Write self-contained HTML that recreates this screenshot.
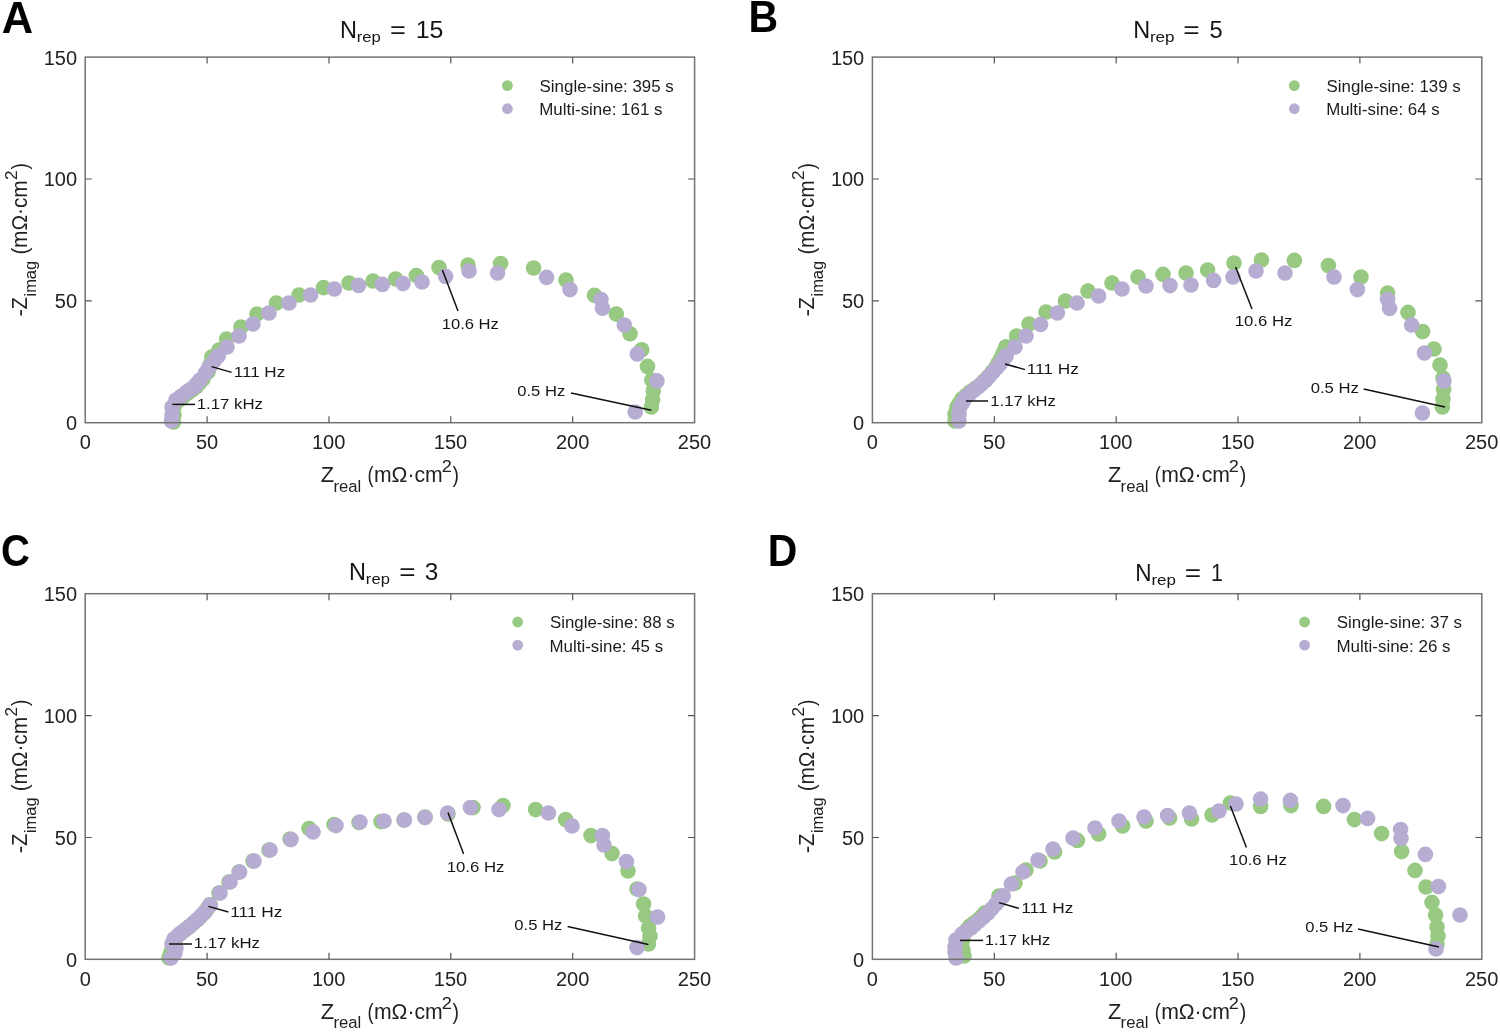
<!DOCTYPE html>
<html><head><meta charset="utf-8"><style>
html,body{margin:0;padding:0;background:#fff;}
svg{display:block;will-change:transform;}
text{font-family:"Liberation Sans", sans-serif;fill:#222;}
.tk{}
.al{}
.sub{}
.an{fill:#161616;}
.lg{fill:#1c1c1c;}
.ti{fill:#161616;}
.lt{font-weight:bold;fill:#000;}
</style></head><body>
<svg width="1500" height="1033" viewBox="0 0 1500 1033">
<rect width="1500" height="1033" fill="#fff"/>
<g fill="#97c982"><circle cx="651.4" cy="407.0" r="7.8"/><circle cx="652.6" cy="399.7" r="7.8"/><circle cx="653.3" cy="391.0" r="7.8"/><circle cx="651.8" cy="380.1" r="7.8"/><circle cx="647.5" cy="366.4" r="7.8"/><circle cx="641.7" cy="349.7" r="7.8"/><circle cx="630.0" cy="333.7" r="7.8"/><circle cx="616.3" cy="314.1" r="7.8"/><circle cx="594.5" cy="295.2" r="7.8"/><circle cx="566.0" cy="280.0" r="7.8"/><circle cx="533.6" cy="268.0" r="7.8"/><circle cx="500.6" cy="263.6" r="7.8"/><circle cx="468.0" cy="265.0" r="7.8"/><circle cx="439.0" cy="267.6" r="7.8"/><circle cx="416.4" cy="275.6" r="7.8"/><circle cx="395.6" cy="279.0" r="7.8"/><circle cx="373.0" cy="281.0" r="7.8"/><circle cx="349.0" cy="283.0" r="7.8"/><circle cx="323.6" cy="287.6" r="7.8"/><circle cx="299.0" cy="295.0" r="7.8"/><circle cx="276.4" cy="303.0" r="7.8"/><circle cx="257.0" cy="314.0" r="7.8"/><circle cx="241.0" cy="327.0" r="7.8"/><circle cx="226.6" cy="339.0" r="7.8"/><circle cx="219.0" cy="350.0" r="7.8"/><circle cx="212.0" cy="357.0" r="7.8"/><circle cx="212.0" cy="357.0" r="7.8"/><circle cx="210.0" cy="365.0" r="7.8"/><circle cx="208.0" cy="372.0" r="7.8"/><circle cx="203.0" cy="379.0" r="7.8"/><circle cx="199.5" cy="383.0" r="7.8"/><circle cx="196.0" cy="387.0" r="7.8"/><circle cx="192.0" cy="390.0" r="7.8"/><circle cx="188.0" cy="393.0" r="7.8"/><circle cx="183.5" cy="396.5" r="7.8"/><circle cx="179.0" cy="400.0" r="7.8"/><circle cx="174.0" cy="407.0" r="7.8"/><circle cx="174.0" cy="415.0" r="7.8"/><circle cx="173.5" cy="422.0" r="7.8"/></g>
<g fill="#b7acd1"><circle cx="635.2" cy="412.0" r="7.8"/><circle cx="657.0" cy="380.9" r="7.8"/><circle cx="637.3" cy="354.0" r="7.8"/><circle cx="624.3" cy="325.0" r="7.8"/><circle cx="602.5" cy="308.3" r="7.8"/><circle cx="601.0" cy="299.6" r="7.8"/><circle cx="570.0" cy="289.6" r="7.8"/><circle cx="546.6" cy="277.4" r="7.8"/><circle cx="497.6" cy="273.0" r="7.8"/><circle cx="469.0" cy="271.0" r="7.8"/><circle cx="445.6" cy="276.4" r="7.8"/><circle cx="422.0" cy="282.0" r="7.8"/><circle cx="403.0" cy="283.6" r="7.8"/><circle cx="382.4" cy="284.4" r="7.8"/><circle cx="358.6" cy="285.4" r="7.8"/><circle cx="334.4" cy="289.0" r="7.8"/><circle cx="310.6" cy="295.0" r="7.8"/><circle cx="289.0" cy="303.0" r="7.8"/><circle cx="269.0" cy="313.0" r="7.8"/><circle cx="253.0" cy="324.0" r="7.8"/><circle cx="239.0" cy="336.0" r="7.8"/><circle cx="227.0" cy="347.0" r="7.8"/><circle cx="218.0" cy="356.0" r="7.8"/><circle cx="218.0" cy="356.0" r="7.8"/><circle cx="214.5" cy="360.5" r="7.8"/><circle cx="211.0" cy="365.0" r="7.8"/><circle cx="208.2" cy="369.0" r="7.8"/><circle cx="205.5" cy="373.0" r="7.8"/><circle cx="200.0" cy="380.0" r="7.8"/><circle cx="197.0" cy="383.5" r="7.8"/><circle cx="194.0" cy="387.0" r="7.8"/><circle cx="190.0" cy="389.8" r="7.8"/><circle cx="186.0" cy="392.5" r="7.8"/><circle cx="181.0" cy="396.2" r="7.8"/><circle cx="176.0" cy="400.0" r="7.8"/><circle cx="172.0" cy="407.0" r="7.8"/><circle cx="172.0" cy="415.0" r="7.8"/><circle cx="171.5" cy="421.0" r="7.8"/></g>
<rect x="85.2" y="57.1" width="609.4" height="365.6" fill="none" stroke="#737373" stroke-width="1.5"/>
<path d="M207.1,422.7v-6.5M207.1,57.1v6.5M329.0,422.7v-6.5M329.0,57.1v6.5M450.8,422.7v-6.5M450.8,57.1v6.5M572.7,422.7v-6.5M572.7,57.1v6.5M85.2,300.9h6.5M694.6,300.9h-6.5M85.2,179.0h6.5M694.6,179.0h-6.5" stroke="#555" stroke-width="1.2" fill="none"/>
<text x="79.64" y="449.34" class="tk" font-size="20.0">0</text>
<text x="195.89" y="449.34" class="tk" font-size="20.0">50</text>
<text x="311.90" y="449.34" class="tk" font-size="20.0">100</text>
<text x="433.78" y="449.34" class="tk" font-size="20.0">150</text>
<text x="555.91" y="449.34" class="tk" font-size="20.0">200</text>
<text x="677.79" y="449.34" class="tk" font-size="20.0">250</text>
<text x="65.92" y="430.24" class="tk" font-size="20.0">0</text>
<text x="54.80" y="308.36" class="tk" font-size="20.0">50</text>
<text x="43.67" y="186.48" class="tk" font-size="20.0">100</text>
<text x="43.67" y="64.60" class="tk" font-size="20.0">150</text>
<text transform="translate(320.76,481.90) scale(1.0213,1)" class="al" font-size="21.4">Z</text>
<text x="333.38" y="491.80" class="sub" font-size="16.7">real</text>
<text transform="translate(367.43,481.90) scale(0.8533,1)" class="al" font-size="21.4">(</text>
<text transform="translate(373.94,481.90) scale(0.9906,1)" class="al" font-size="21.4">mΩ·cm</text>
<text transform="translate(441.65,472.10) scale(1.0885,1)" class="sub" font-size="16.7">2</text>
<text transform="translate(452.59,481.90) scale(0.9067,1)" class="al" font-size="21.4">)</text>
<g transform="translate(26.70,315.50) rotate(-90)"><text transform="translate(-1.05,0.00) scale(1.0537,1)" class="al" font-size="21.4">-</text><text transform="translate(6.32,0.00) scale(0.9277,1)" class="al" font-size="21.4">Z</text><text transform="translate(18.99,9.30) scale(0.9875,1)" class="sub" font-size="16.7">imag</text><text transform="translate(60.96,0.00) scale(0.9778,1)" class="al" font-size="21.4">(</text><text transform="translate(67.56,0.00) scale(0.9741,1)" class="al" font-size="21.4">mΩ·cm</text><text transform="translate(135.60,-10.00) scale(1.0230,1)" class="sub" font-size="16.7">2</text><text transform="translate(146.09,0.00) scale(0.8889,1)" class="al" font-size="21.4">)</text></g>
<line x1="211.6" y1="366.6" x2="231.6" y2="372.4" stroke="#111" stroke-width="1.5"/>
<text transform="translate(233.66,377.00) scale(1.1868,1)" class="an" font-size="14.4">111 Hz</text>
<line x1="172.4" y1="404.4" x2="195" y2="404.4" stroke="#111" stroke-width="1.5"/>
<text transform="translate(196.69,409.00) scale(1.1663,1)" class="an" font-size="14.4">1.17 kHz</text>
<line x1="442.4" y1="270" x2="458" y2="311" stroke="#111" stroke-width="1.5"/>
<text transform="translate(441.70,329.00) scale(1.1518,1)" class="an" font-size="14.4">10.6 Hz</text>
<line x1="571" y1="393" x2="651.4" y2="410.3" stroke="#111" stroke-width="1.5"/>
<text transform="translate(517.28,396.00) scale(1.1528,1)" class="an" font-size="14.4">0.5 Hz</text>
<circle cx="507.4" cy="85.6" r="5.4" fill="#97c982"/>
<circle cx="507.4" cy="108.7" r="5.4" fill="#b7acd1"/>
<text transform="translate(539.61,92.00) scale(1.0558,1)" class="lg" font-size="16.0">Single-sine: 395 s</text>
<text transform="translate(539.24,115.30) scale(1.0594,1)" class="lg" font-size="16.0">Multi-sine: 161 s</text>
<text transform="translate(340.01,37.80) scale(1.0077,1)" class="ti" font-size="23.3">N</text>
<text transform="translate(356.76,42.00) scale(1.1868,1)" class="ti" font-size="14.0">rep</text>
<text transform="translate(390.09,37.80) scale(1.1644,1)" class="ti" font-size="23.3">=</text>
<text transform="translate(415.73,37.80) scale(1.0681,1)" class="ti" font-size="23.3">15</text>
<text transform="translate(1.80,32.70) scale(0.9774,1)" class="lt" font-size="44.5">A</text>
<g fill="#97c982"><circle cx="1442.4" cy="407.0" r="7.8"/><circle cx="1443.0" cy="399.0" r="7.8"/><circle cx="1443.6" cy="389.6" r="7.8"/><circle cx="1443.0" cy="378.0" r="7.8"/><circle cx="1440.0" cy="365.0" r="7.8"/><circle cx="1434.0" cy="349.0" r="7.8"/><circle cx="1422.6" cy="331.6" r="7.8"/><circle cx="1408.0" cy="312.4" r="7.8"/><circle cx="1387.6" cy="293.0" r="7.8"/><circle cx="1361.0" cy="277.0" r="7.8"/><circle cx="1328.4" cy="265.6" r="7.8"/><circle cx="1294.4" cy="260.4" r="7.8"/><circle cx="1261.4" cy="260.0" r="7.8"/><circle cx="1234.0" cy="263.0" r="7.8"/><circle cx="1207.6" cy="270.0" r="7.8"/><circle cx="1186.0" cy="273.0" r="7.8"/><circle cx="1163.0" cy="274.4" r="7.8"/><circle cx="1138.0" cy="277.0" r="7.8"/><circle cx="1112.0" cy="283.0" r="7.8"/><circle cx="1088.0" cy="291.0" r="7.8"/><circle cx="1065.4" cy="301.0" r="7.8"/><circle cx="1046.0" cy="312.0" r="7.8"/><circle cx="1029.0" cy="324.0" r="7.8"/><circle cx="1016.6" cy="336.0" r="7.8"/><circle cx="1006.0" cy="347.0" r="7.8"/><circle cx="1006.0" cy="347.0" r="7.8"/><circle cx="1003.5" cy="352.5" r="7.8"/><circle cx="1001.0" cy="358.0" r="7.8"/><circle cx="998.5" cy="362.5" r="7.8"/><circle cx="996.0" cy="367.0" r="7.8"/><circle cx="992.0" cy="372.0" r="7.8"/><circle cx="988.0" cy="377.0" r="7.8"/><circle cx="984.0" cy="381.0" r="7.8"/><circle cx="980.0" cy="385.0" r="7.8"/><circle cx="975.0" cy="388.5" r="7.8"/><circle cx="970.0" cy="392.0" r="7.8"/><circle cx="966.0" cy="395.5" r="7.8"/><circle cx="962.0" cy="399.0" r="7.8"/><circle cx="959.5" cy="403.0" r="7.8"/><circle cx="957.0" cy="407.0" r="7.8"/><circle cx="955.0" cy="414.0" r="7.8"/><circle cx="955.0" cy="421.0" r="7.8"/></g>
<g fill="#b7acd1"><circle cx="1422.4" cy="413.0" r="7.8"/><circle cx="1444.0" cy="381.0" r="7.8"/><circle cx="1424.4" cy="353.0" r="7.8"/><circle cx="1411.6" cy="325.0" r="7.8"/><circle cx="1389.6" cy="308.4" r="7.8"/><circle cx="1387.6" cy="299.6" r="7.8"/><circle cx="1357.4" cy="289.6" r="7.8"/><circle cx="1334.0" cy="277.0" r="7.8"/><circle cx="1285.0" cy="273.0" r="7.8"/><circle cx="1256.0" cy="271.0" r="7.8"/><circle cx="1233.0" cy="277.0" r="7.8"/><circle cx="1213.6" cy="280.4" r="7.8"/><circle cx="1191.0" cy="285.0" r="7.8"/><circle cx="1170.0" cy="285.6" r="7.8"/><circle cx="1146.0" cy="286.0" r="7.8"/><circle cx="1122.0" cy="289.0" r="7.8"/><circle cx="1098.6" cy="296.0" r="7.8"/><circle cx="1077.0" cy="303.0" r="7.8"/><circle cx="1057.4" cy="313.0" r="7.8"/><circle cx="1040.6" cy="324.4" r="7.8"/><circle cx="1026.0" cy="336.0" r="7.8"/><circle cx="1015.0" cy="347.0" r="7.8"/><circle cx="1006.0" cy="356.0" r="7.8"/><circle cx="1006.0" cy="356.0" r="7.8"/><circle cx="1003.0" cy="360.0" r="7.8"/><circle cx="1000.0" cy="364.0" r="7.8"/><circle cx="996.5" cy="368.0" r="7.8"/><circle cx="993.0" cy="372.0" r="7.8"/><circle cx="989.5" cy="376.0" r="7.8"/><circle cx="986.0" cy="380.0" r="7.8"/><circle cx="982.0" cy="383.5" r="7.8"/><circle cx="978.0" cy="387.0" r="7.8"/><circle cx="974.0" cy="390.3" r="7.8"/><circle cx="970.0" cy="393.7" r="7.8"/><circle cx="966.0" cy="397.0" r="7.8"/><circle cx="963.0" cy="402.0" r="7.8"/><circle cx="960.0" cy="407.0" r="7.8"/><circle cx="959.0" cy="414.0" r="7.8"/><circle cx="959.0" cy="421.0" r="7.8"/></g>
<rect x="872.4" y="57.1" width="609.4" height="365.6" fill="none" stroke="#737373" stroke-width="1.5"/>
<path d="M994.3,422.7v-6.5M994.3,57.1v6.5M1116.2,422.7v-6.5M1116.2,57.1v6.5M1238.0,422.7v-6.5M1238.0,57.1v6.5M1359.9,422.7v-6.5M1359.9,57.1v6.5M872.4,300.9h6.5M1481.8,300.9h-6.5M872.4,179.0h6.5M1481.8,179.0h-6.5" stroke="#555" stroke-width="1.2" fill="none"/>
<text x="866.84" y="449.34" class="tk" font-size="20.0">0</text>
<text x="983.09" y="449.34" class="tk" font-size="20.0">50</text>
<text x="1099.10" y="449.34" class="tk" font-size="20.0">100</text>
<text x="1220.98" y="449.34" class="tk" font-size="20.0">150</text>
<text x="1343.11" y="449.34" class="tk" font-size="20.0">200</text>
<text x="1464.99" y="449.34" class="tk" font-size="20.0">250</text>
<text x="853.12" y="430.24" class="tk" font-size="20.0">0</text>
<text x="842.00" y="308.36" class="tk" font-size="20.0">50</text>
<text x="830.88" y="186.48" class="tk" font-size="20.0">100</text>
<text x="830.88" y="64.60" class="tk" font-size="20.0">150</text>
<text transform="translate(1107.96,481.90) scale(1.0213,1)" class="al" font-size="21.4">Z</text>
<text x="1120.58" y="491.80" class="sub" font-size="16.7">real</text>
<text transform="translate(1154.63,481.90) scale(0.8533,1)" class="al" font-size="21.4">(</text>
<text transform="translate(1161.14,481.90) scale(0.9906,1)" class="al" font-size="21.4">mΩ·cm</text>
<text transform="translate(1228.85,472.10) scale(1.0885,1)" class="sub" font-size="16.7">2</text>
<text transform="translate(1239.79,481.90) scale(0.9067,1)" class="al" font-size="21.4">)</text>
<g transform="translate(813.90,315.50) rotate(-90)"><text transform="translate(-1.05,0.00) scale(1.0537,1)" class="al" font-size="21.4">-</text><text transform="translate(6.32,0.00) scale(0.9277,1)" class="al" font-size="21.4">Z</text><text transform="translate(18.99,9.30) scale(0.9875,1)" class="sub" font-size="16.7">imag</text><text transform="translate(60.96,0.00) scale(0.9778,1)" class="al" font-size="21.4">(</text><text transform="translate(67.56,0.00) scale(0.9741,1)" class="al" font-size="21.4">mΩ·cm</text><text transform="translate(135.60,-10.00) scale(1.0230,1)" class="sub" font-size="16.7">2</text><text transform="translate(146.09,0.00) scale(0.8889,1)" class="al" font-size="21.4">)</text></g>
<line x1="1005" y1="364" x2="1025" y2="369.6" stroke="#111" stroke-width="1.5"/>
<text transform="translate(1026.65,373.60) scale(1.2012,1)" class="an" font-size="14.4">111 Hz</text>
<line x1="966" y1="401" x2="988" y2="401" stroke="#111" stroke-width="1.5"/>
<text transform="translate(990.30,406.00) scale(1.1554,1)" class="an" font-size="14.4">1.17 kHz</text>
<line x1="1235.6" y1="267" x2="1252" y2="309" stroke="#111" stroke-width="1.5"/>
<text transform="translate(1234.69,326.00) scale(1.1644,1)" class="an" font-size="14.4">10.6 Hz</text>
<line x1="1363.6" y1="389" x2="1445" y2="407" stroke="#111" stroke-width="1.5"/>
<text transform="translate(1310.68,393.00) scale(1.1578,1)" class="an" font-size="14.4">0.5 Hz</text>
<circle cx="1294.3" cy="85.6" r="5.4" fill="#97c982"/>
<circle cx="1294.3" cy="108.7" r="5.4" fill="#b7acd1"/>
<text transform="translate(1326.51,92.00) scale(1.0566,1)" class="lg" font-size="16.0">Single-sine: 139 s</text>
<text transform="translate(1326.15,115.30) scale(1.0575,1)" class="lg" font-size="16.0">Multi-sine: 64 s</text>
<text transform="translate(1133.31,38.10) scale(1.0077,1)" class="ti" font-size="23.3">N</text>
<text transform="translate(1149.93,42.30) scale(1.2185,1)" class="ti" font-size="14.0">rep</text>
<text transform="translate(1183.35,38.10) scale(1.2000,1)" class="ti" font-size="23.3">=</text>
<text transform="translate(1209.38,38.10) scale(1.0182,1)" class="ti" font-size="23.3">5</text>
<text transform="translate(748.44,32.40) scale(0.9217,1)" class="lt" font-size="44.5">B</text>
<g fill="#97c982"><circle cx="648.4" cy="944.0" r="7.8"/><circle cx="650.0" cy="936.0" r="7.8"/><circle cx="648.6" cy="928.0" r="7.8"/><circle cx="645.6" cy="916.0" r="7.8"/><circle cx="643.6" cy="904.0" r="7.8"/><circle cx="637.0" cy="889.0" r="7.8"/><circle cx="628.0" cy="871.0" r="7.8"/><circle cx="612.0" cy="853.6" r="7.8"/><circle cx="591.0" cy="835.6" r="7.8"/><circle cx="565.6" cy="819.6" r="7.8"/><circle cx="535.6" cy="809.6" r="7.8"/><circle cx="503.0" cy="805.6" r="7.8"/><circle cx="473.0" cy="807.6" r="7.8"/><circle cx="448.0" cy="814.0" r="7.8"/><circle cx="425.0" cy="817.0" r="7.8"/><circle cx="404.0" cy="820.0" r="7.8"/><circle cx="381.0" cy="821.6" r="7.8"/><circle cx="359.0" cy="822.5" r="7.8"/><circle cx="334.0" cy="824.5" r="7.8"/><circle cx="309.0" cy="828.5" r="7.8"/><circle cx="290.0" cy="839.0" r="7.8"/><circle cx="269.0" cy="850.0" r="7.8"/><circle cx="253.0" cy="861.0" r="7.8"/><circle cx="239.0" cy="872.0" r="7.8"/><circle cx="229.0" cy="882.0" r="7.8"/><circle cx="219.0" cy="893.0" r="7.8"/><circle cx="210.0" cy="905.0" r="7.8"/><circle cx="210.0" cy="905.0" r="7.8"/><circle cx="207.0" cy="909.0" r="7.8"/><circle cx="204.0" cy="913.0" r="7.8"/><circle cx="200.5" cy="916.5" r="7.8"/><circle cx="197.0" cy="920.0" r="7.8"/><circle cx="193.0" cy="923.5" r="7.8"/><circle cx="189.0" cy="927.0" r="7.8"/><circle cx="184.5" cy="930.5" r="7.8"/><circle cx="180.0" cy="934.0" r="7.8"/><circle cx="175.0" cy="941.0" r="7.8"/><circle cx="172.0" cy="949.0" r="7.8"/><circle cx="170.5" cy="953.5" r="7.8"/><circle cx="169.0" cy="958.0" r="7.8"/></g>
<g fill="#b7acd1"><circle cx="637.0" cy="947.6" r="7.8"/><circle cx="657.6" cy="917.0" r="7.8"/><circle cx="639.0" cy="889.6" r="7.8"/><circle cx="626.4" cy="861.6" r="7.8"/><circle cx="604.0" cy="845.0" r="7.8"/><circle cx="602.4" cy="835.6" r="7.8"/><circle cx="572.0" cy="826.0" r="7.8"/><circle cx="548.4" cy="813.0" r="7.8"/><circle cx="499.0" cy="809.6" r="7.8"/><circle cx="470.4" cy="807.6" r="7.8"/><circle cx="447.6" cy="813.0" r="7.8"/><circle cx="425.0" cy="817.6" r="7.8"/><circle cx="404.4" cy="820.0" r="7.8"/><circle cx="384.0" cy="821.0" r="7.8"/><circle cx="360.0" cy="822.0" r="7.8"/><circle cx="336.0" cy="825.6" r="7.8"/><circle cx="313.0" cy="832.0" r="7.8"/><circle cx="291.0" cy="839.6" r="7.8"/><circle cx="270.0" cy="850.0" r="7.8"/><circle cx="254.0" cy="861.0" r="7.8"/><circle cx="239.6" cy="872.0" r="7.8"/><circle cx="230.0" cy="882.0" r="7.8"/><circle cx="220.0" cy="893.0" r="7.8"/><circle cx="210.0" cy="905.0" r="7.8"/><circle cx="210.0" cy="905.0" r="7.8"/><circle cx="205.0" cy="912.0" r="7.8"/><circle cx="201.5" cy="915.5" r="7.8"/><circle cx="198.0" cy="919.0" r="7.8"/><circle cx="194.0" cy="922.5" r="7.8"/><circle cx="190.0" cy="926.0" r="7.8"/><circle cx="185.5" cy="929.5" r="7.8"/><circle cx="181.0" cy="933.0" r="7.8"/><circle cx="177.5" cy="936.0" r="7.8"/><circle cx="174.0" cy="939.0" r="7.8"/><circle cx="172.0" cy="944.0" r="7.8"/><circle cx="176.0" cy="948.0" r="7.8"/><circle cx="175.0" cy="953.0" r="7.8"/><circle cx="171.0" cy="958.0" r="7.8"/></g>
<rect x="85.2" y="593.7" width="609.4" height="365.6" fill="none" stroke="#737373" stroke-width="1.5"/>
<path d="M207.1,959.3v-6.5M207.1,593.7v6.5M329.0,959.3v-6.5M329.0,593.7v6.5M450.8,959.3v-6.5M450.8,593.7v6.5M572.7,959.3v-6.5M572.7,593.7v6.5M85.2,837.5h6.5M694.6,837.5h-6.5M85.2,715.6h6.5M694.6,715.6h-6.5" stroke="#555" stroke-width="1.2" fill="none"/>
<text x="79.64" y="985.94" class="tk" font-size="20.0">0</text>
<text x="195.89" y="985.94" class="tk" font-size="20.0">50</text>
<text x="311.90" y="985.94" class="tk" font-size="20.0">100</text>
<text x="433.78" y="985.94" class="tk" font-size="20.0">150</text>
<text x="555.91" y="985.94" class="tk" font-size="20.0">200</text>
<text x="677.79" y="985.94" class="tk" font-size="20.0">250</text>
<text x="65.92" y="966.84" class="tk" font-size="20.0">0</text>
<text x="54.80" y="844.96" class="tk" font-size="20.0">50</text>
<text x="43.67" y="723.08" class="tk" font-size="20.0">100</text>
<text x="43.67" y="601.20" class="tk" font-size="20.0">150</text>
<text transform="translate(320.76,1018.50) scale(1.0213,1)" class="al" font-size="21.4">Z</text>
<text x="333.38" y="1028.40" class="sub" font-size="16.7">real</text>
<text transform="translate(367.43,1018.50) scale(0.8533,1)" class="al" font-size="21.4">(</text>
<text transform="translate(373.94,1018.50) scale(0.9906,1)" class="al" font-size="21.4">mΩ·cm</text>
<text transform="translate(441.65,1008.70) scale(1.0885,1)" class="sub" font-size="16.7">2</text>
<text transform="translate(452.59,1018.50) scale(0.9067,1)" class="al" font-size="21.4">)</text>
<g transform="translate(26.70,852.10) rotate(-90)"><text transform="translate(-1.05,0.00) scale(1.0537,1)" class="al" font-size="21.4">-</text><text transform="translate(6.32,0.00) scale(0.9277,1)" class="al" font-size="21.4">Z</text><text transform="translate(18.99,9.30) scale(0.9875,1)" class="sub" font-size="16.7">imag</text><text transform="translate(60.96,0.00) scale(0.9778,1)" class="al" font-size="21.4">(</text><text transform="translate(67.56,0.00) scale(0.9741,1)" class="al" font-size="21.4">mΩ·cm</text><text transform="translate(135.60,-10.00) scale(1.0230,1)" class="sub" font-size="16.7">2</text><text transform="translate(146.09,0.00) scale(0.8889,1)" class="al" font-size="21.4">)</text></g>
<line x1="208.4" y1="906.4" x2="228.4" y2="912" stroke="#111" stroke-width="1.5"/>
<text transform="translate(230.25,916.60) scale(1.2012,1)" class="an" font-size="14.4">111 Hz</text>
<line x1="169" y1="944" x2="192" y2="944" stroke="#111" stroke-width="1.5"/>
<text transform="translate(193.69,948.40) scale(1.1663,1)" class="an" font-size="14.4">1.17 kHz</text>
<line x1="448" y1="812.6" x2="463.6" y2="854" stroke="#111" stroke-width="1.5"/>
<text transform="translate(446.69,871.60) scale(1.1644,1)" class="an" font-size="14.4">10.6 Hz</text>
<line x1="567.6" y1="926.4" x2="648.4" y2="944.4" stroke="#111" stroke-width="1.5"/>
<text transform="translate(514.28,930.00) scale(1.1578,1)" class="an" font-size="14.4">0.5 Hz</text>
<circle cx="517.7" cy="622.0" r="5.4" fill="#97c982"/>
<circle cx="517.7" cy="645.1" r="5.4" fill="#b7acd1"/>
<text transform="translate(549.91,628.40) scale(1.0550,1)" class="lg" font-size="16.0">Single-sine: 88 s</text>
<text transform="translate(549.55,651.70) scale(1.0575,1)" class="lg" font-size="16.0">Multi-sine: 45 s</text>
<text transform="translate(349.11,580.00) scale(1.0077,1)" class="ti" font-size="23.3">N</text>
<text transform="translate(365.86,584.20) scale(1.1868,1)" class="ti" font-size="14.0">rep</text>
<text transform="translate(399.15,580.00) scale(1.2000,1)" class="ti" font-size="23.3">=</text>
<text transform="translate(424.79,580.00) scale(1.0455,1)" class="ti" font-size="23.3">3</text>
<text transform="translate(1.01,566.10) scale(0.9000,1)" class="lt" font-size="44.5">C</text>
<g fill="#97c982"><circle cx="1437.0" cy="944.0" r="7.8"/><circle cx="1438.0" cy="936.0" r="7.8"/><circle cx="1437.0" cy="927.0" r="7.8"/><circle cx="1435.6" cy="915.0" r="7.8"/><circle cx="1432.0" cy="902.4" r="7.8"/><circle cx="1426.0" cy="887.0" r="7.8"/><circle cx="1415.0" cy="870.4" r="7.8"/><circle cx="1401.6" cy="851.6" r="7.8"/><circle cx="1381.6" cy="833.6" r="7.8"/><circle cx="1354.4" cy="819.6" r="7.8"/><circle cx="1323.6" cy="806.4" r="7.8"/><circle cx="1291.0" cy="805.6" r="7.8"/><circle cx="1260.6" cy="806.4" r="7.8"/><circle cx="1230.4" cy="803.0" r="7.8"/><circle cx="1212.0" cy="815.0" r="7.8"/><circle cx="1191.6" cy="819.0" r="7.8"/><circle cx="1169.6" cy="818.0" r="7.8"/><circle cx="1146.0" cy="821.0" r="7.8"/><circle cx="1122.6" cy="826.0" r="7.8"/><circle cx="1098.6" cy="834.0" r="7.8"/><circle cx="1077.4" cy="840.4" r="7.8"/><circle cx="1054.6" cy="852.0" r="7.8"/><circle cx="1040.0" cy="861.0" r="7.8"/><circle cx="1026.0" cy="870.0" r="7.8"/><circle cx="1015.0" cy="883.0" r="7.8"/><circle cx="999.0" cy="896.0" r="7.8"/><circle cx="985.0" cy="913.0" r="7.8"/><circle cx="985.0" cy="913.0" r="7.8"/><circle cx="981.5" cy="916.5" r="7.8"/><circle cx="978.0" cy="920.0" r="7.8"/><circle cx="974.0" cy="923.0" r="7.8"/><circle cx="970.0" cy="926.0" r="7.8"/><circle cx="967.0" cy="929.5" r="7.8"/><circle cx="964.0" cy="933.0" r="7.8"/><circle cx="963.0" cy="937.5" r="7.8"/><circle cx="962.0" cy="942.0" r="7.8"/><circle cx="963.0" cy="950.0" r="7.8"/><circle cx="964.0" cy="956.0" r="7.8"/></g>
<g fill="#b7acd1"><circle cx="1436.0" cy="949.0" r="7.8"/><circle cx="1460.0" cy="915.0" r="7.8"/><circle cx="1438.4" cy="886.6" r="7.8"/><circle cx="1425.4" cy="854.4" r="7.8"/><circle cx="1401.0" cy="838.4" r="7.8"/><circle cx="1400.6" cy="829.6" r="7.8"/><circle cx="1367.6" cy="818.4" r="7.8"/><circle cx="1343.0" cy="805.6" r="7.8"/><circle cx="1290.4" cy="800.4" r="7.8"/><circle cx="1260.6" cy="799.0" r="7.8"/><circle cx="1236.0" cy="804.0" r="7.8"/><circle cx="1219.0" cy="811.0" r="7.8"/><circle cx="1189.4" cy="813.0" r="7.8"/><circle cx="1167.6" cy="815.6" r="7.8"/><circle cx="1144.0" cy="817.0" r="7.8"/><circle cx="1119.0" cy="821.0" r="7.8"/><circle cx="1095.0" cy="828.0" r="7.8"/><circle cx="1073.0" cy="838.0" r="7.8"/><circle cx="1053.0" cy="849.0" r="7.8"/><circle cx="1038.0" cy="860.0" r="7.8"/><circle cx="1023.0" cy="872.0" r="7.8"/><circle cx="1011.4" cy="884.0" r="7.8"/><circle cx="1003.0" cy="896.0" r="7.8"/><circle cx="1003.0" cy="896.0" r="7.8"/><circle cx="999.5" cy="900.0" r="7.8"/><circle cx="996.0" cy="904.0" r="7.8"/><circle cx="992.0" cy="908.5" r="7.8"/><circle cx="988.0" cy="913.0" r="7.8"/><circle cx="983.5" cy="917.0" r="7.8"/><circle cx="979.0" cy="921.0" r="7.8"/><circle cx="975.0" cy="924.5" r="7.8"/><circle cx="971.0" cy="928.0" r="7.8"/><circle cx="966.5" cy="931.0" r="7.8"/><circle cx="962.0" cy="934.0" r="7.8"/><circle cx="956.0" cy="940.0" r="7.8"/><circle cx="955.0" cy="947.0" r="7.8"/><circle cx="955.0" cy="952.0" r="7.8"/><circle cx="956.0" cy="958.0" r="7.8"/></g>
<rect x="872.4" y="593.7" width="609.4" height="365.6" fill="none" stroke="#737373" stroke-width="1.5"/>
<path d="M994.3,959.3v-6.5M994.3,593.7v6.5M1116.2,959.3v-6.5M1116.2,593.7v6.5M1238.0,959.3v-6.5M1238.0,593.7v6.5M1359.9,959.3v-6.5M1359.9,593.7v6.5M872.4,837.5h6.5M1481.8,837.5h-6.5M872.4,715.6h6.5M1481.8,715.6h-6.5" stroke="#555" stroke-width="1.2" fill="none"/>
<text x="866.84" y="985.94" class="tk" font-size="20.0">0</text>
<text x="983.09" y="985.94" class="tk" font-size="20.0">50</text>
<text x="1099.10" y="985.94" class="tk" font-size="20.0">100</text>
<text x="1220.98" y="985.94" class="tk" font-size="20.0">150</text>
<text x="1343.11" y="985.94" class="tk" font-size="20.0">200</text>
<text x="1464.99" y="985.94" class="tk" font-size="20.0">250</text>
<text x="853.12" y="966.84" class="tk" font-size="20.0">0</text>
<text x="842.00" y="844.96" class="tk" font-size="20.0">50</text>
<text x="830.88" y="723.08" class="tk" font-size="20.0">100</text>
<text x="830.88" y="601.20" class="tk" font-size="20.0">150</text>
<text transform="translate(1107.96,1018.50) scale(1.0213,1)" class="al" font-size="21.4">Z</text>
<text x="1120.58" y="1028.40" class="sub" font-size="16.7">real</text>
<text transform="translate(1154.63,1018.50) scale(0.8533,1)" class="al" font-size="21.4">(</text>
<text transform="translate(1161.14,1018.50) scale(0.9906,1)" class="al" font-size="21.4">mΩ·cm</text>
<text transform="translate(1228.85,1008.70) scale(1.0885,1)" class="sub" font-size="16.7">2</text>
<text transform="translate(1239.79,1018.50) scale(0.9067,1)" class="al" font-size="21.4">)</text>
<g transform="translate(813.90,852.10) rotate(-90)"><text transform="translate(-1.05,0.00) scale(1.0537,1)" class="al" font-size="21.4">-</text><text transform="translate(6.32,0.00) scale(0.9277,1)" class="al" font-size="21.4">Z</text><text transform="translate(18.99,9.30) scale(0.9875,1)" class="sub" font-size="16.7">imag</text><text transform="translate(60.96,0.00) scale(0.9778,1)" class="al" font-size="21.4">(</text><text transform="translate(67.56,0.00) scale(0.9741,1)" class="al" font-size="21.4">mΩ·cm</text><text transform="translate(135.60,-10.00) scale(1.0230,1)" class="sub" font-size="16.7">2</text><text transform="translate(146.09,0.00) scale(0.8889,1)" class="al" font-size="21.4">)</text></g>
<line x1="999" y1="902.6" x2="1019" y2="908.4" stroke="#111" stroke-width="1.5"/>
<text transform="translate(1021.25,913.00) scale(1.2012,1)" class="an" font-size="14.4">111 Hz</text>
<line x1="960" y1="940.4" x2="983" y2="940.4" stroke="#111" stroke-width="1.5"/>
<text transform="translate(984.70,945.40) scale(1.1554,1)" class="an" font-size="14.4">1.17 kHz</text>
<line x1="1230.4" y1="806" x2="1246.4" y2="847.6" stroke="#111" stroke-width="1.5"/>
<text transform="translate(1229.09,865.00) scale(1.1644,1)" class="an" font-size="14.4">10.6 Hz</text>
<line x1="1358" y1="929" x2="1439" y2="947" stroke="#111" stroke-width="1.5"/>
<text transform="translate(1305.28,932.00) scale(1.1528,1)" class="an" font-size="14.4">0.5 Hz</text>
<circle cx="1304.6" cy="622.0" r="5.4" fill="#97c982"/>
<circle cx="1304.6" cy="645.1" r="5.4" fill="#b7acd1"/>
<text transform="translate(1336.81,628.40) scale(1.0584,1)" class="lg" font-size="16.0">Single-sine: 37 s</text>
<text transform="translate(1336.44,651.70) scale(1.0613,1)" class="lg" font-size="16.0">Multi-sine: 26 s</text>
<text transform="translate(1135.28,580.90) scale(0.9692,1)" class="ti" font-size="23.3">N</text>
<text transform="translate(1151.44,585.10) scale(1.2132,1)" class="ti" font-size="14.0">rep</text>
<text transform="translate(1184.75,580.90) scale(1.2000,1)" class="ti" font-size="23.3">=</text>
<text transform="translate(1211.09,580.90) scale(0.9200,1)" class="ti" font-size="23.3">1</text>
<text transform="translate(767.74,565.80) scale(0.9211,1)" class="lt" font-size="44.5">D</text>
</svg></body></html>
